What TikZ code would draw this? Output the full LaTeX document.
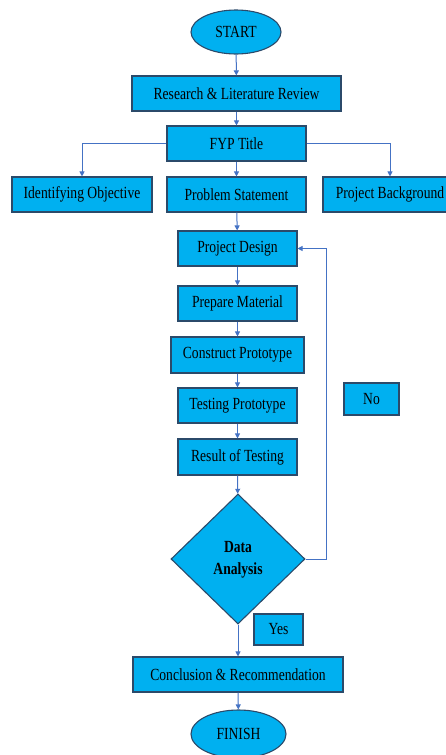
\documentclass[tikz,border=0pt]{standalone}
\usepackage{fontspec}
\setmainfont[FakeStretch=0.8]{Liberation Serif}
\usepackage{xcolor}
\usepackage{tikz}
\usetikzlibrary{shapes.geometric,arrows.meta}

\definecolor{boxfill}{HTML}{00B0F0}
\definecolor{boxline}{HTML}{2B4A6A}
\definecolor{arrline}{HTML}{4472C4}

\tikzset{
  blk/.style={draw=boxline,fill=boxfill,line width=1.1pt,inner sep=0pt,
    font=\fontsize{17}{20}\selectfont},
  stepbox/.style={blk,rectangle,minimum height=35pt},
  term/.style={blk,ellipse},
  decide/.style={blk,diamond,minimum width=134pt,minimum height=130pt,
    font=\fontsize{17}{22}\selectfont\bfseries},
  arr/.style={draw=arrline,line width=1pt,-{Triangle[length=5pt,width=5pt]}},
}

\begin{document}
\begin{tikzpicture}[x=1pt,y=-1pt]
\useasboundingbox (0,0) rectangle (445,755);
\node[term,minimum width=90pt,minimum height=44pt] (start) at (236,32) {START};
\node[stepbox,minimum width=209pt] (research) at (236.5,93.5) {Research \& Literature Review};
\node[stepbox,minimum width=139pt] (fyp) at (236.5,143.5) {FYP Title};
\node[stepbox,minimum width=140pt] (ident) at (82,194.5) {Identifying Objective};
\node[stepbox,minimum width=139pt] (prob) at (236.5,194.5) {Problem Statement};
\node[stepbox,minimum width=134pt] (backg) at (390,194.5) {Project Background};
\node[stepbox,minimum width=119pt] (design) at (237.5,248.5) {Project Design};
\node[stepbox,minimum width=119pt] (prep) at (237.5,303.5) {Prepare Material};
\node[stepbox,minimum width=133pt,minimum height=36pt] (constr) at (237.5,355) {Construct Prototype};
\node[stepbox,minimum width=119pt] (testp) at (237.5,405.5) {Testing Prototype};
\node[stepbox,minimum width=119pt,minimum height=36pt] (result) at (237.5,457) {Result of Testing};
\node[decide] (anal) at (238,559) {\raisebox{4pt}{\begin{tabular}{@{}c@{}}Data\\Analysis\end{tabular}}};
\node[stepbox,minimum width=55pt,minimum height=32pt] (no) at (371.5,399) {No};
\node[stepbox,minimum width=49pt,minimum height=31pt] (yes) at (278.5,629.5) {Yes};
\node[stepbox,minimum width=210pt] (concl) at (238,674.5) {Conclusion \& Recommendation};
\node[term,minimum width=95pt,minimum height=48pt] (finish) at (238.5,734) {FINISH};

% main flow
\draw[arr] (start) -- (research);
\draw[arr] (research) -- (fyp);
\draw[arr] (fyp) -- (prob);
\draw[arr] (fyp.west) -| (ident.north);
\draw[arr] (fyp.east) -| (backg.north);
\draw[arr] (prob) -- (design);
\draw[arr] (design) -- (prep);
\draw[arr] (prep) -- (constr);
\draw[arr] (constr) -- (testp);
\draw[arr] (testp) -- (result);
\draw[arr] (result) -- (anal);
\draw[arr] (anal) -- (concl);
\draw[arr] (concl) -- (finish);
% loop back
\draw[arr] (anal.east) -- ++(21,0) |- (design.east);
\end{tikzpicture}
\end{document}
